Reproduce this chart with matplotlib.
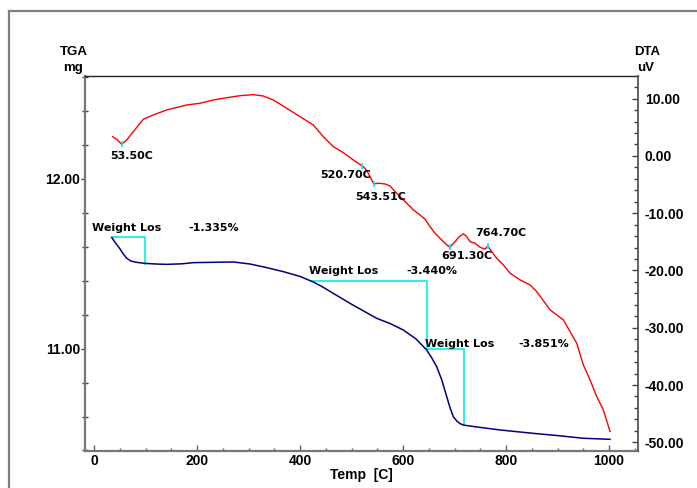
import matplotlib
matplotlib.use("Agg")
import matplotlib.pyplot as plt
from matplotlib.lines import Line2D
from matplotlib.ticker import MultipleLocator, FormatStrFormatter

# TGA trace (mass in mg vs temperature in C)
tga_temp = [34.4, 40.0, 50.0, 56.0, 63.5, 72.0, 82.9, 97.7, 120.0, 141.2, 170.0,
            192.8, 230.0, 270.5, 302.9, 335.0, 367.6, 400.0, 425.8, 445.0, 464.7,
            497.1, 520.0, 548.9, 575.0, 600.6, 625.0, 646.0, 655.0, 665.4, 675.0,
            684.9, 691.0, 697.7, 705.0, 711.0, 717.1, 740.0, 788.3, 853.0, 900.0,
            950.1, 1002.0]
tga_mass = [11.656, 11.630, 11.590, 11.562, 11.533, 11.516, 11.509, 11.503, 11.499,
            11.497, 11.500, 11.507, 11.509, 11.511, 11.499, 11.478, 11.454, 11.426,
            11.393, 11.362, 11.326, 11.267, 11.228, 11.179, 11.148, 11.110, 11.058,
            10.992, 10.950, 10.894, 10.818, 10.717, 10.655, 10.599, 10.572, 10.558,
            10.550, 10.540, 10.521, 10.501, 10.488, 10.472, 10.466]

# DTA trace (uV vs temperature in C)
dta_temp = [36.3, 44.1, 53.5, 63.5, 76.3, 95.7, 115.1, 141.2, 180.0, 205.8, 231.7,
            257.7, 283.5, 309.3, 328.7, 348.2, 374.2, 400.0, 425.8, 445.2, 464.7,
            484.1, 503.5, 520.7, 526.2, 532.6, 539.2, 543.5, 552.0, 565.0, 574.8,
            584.5, 594.2, 607.2, 620.0, 633.0, 642.7, 652.4, 662.1, 675.1, 684.9,
            691.3, 701.0, 709.3, 717.1, 723.7, 730.1, 739.8, 749.5, 759.2, 764.7,
            772.2, 781.9, 794.8, 807.8, 827.2, 846.6, 859.6, 885.4, 911.3, 937.3,
            950.1, 963.1, 976.1, 988.9, 1002.0]
dta_signal = [3.37, 2.91, 2.04, 2.79, 4.24, 6.40, 7.16, 8.03, 8.90, 9.20, 9.77,
              10.17, 10.52, 10.70, 10.47, 9.77, 8.32, 6.86, 5.41, 3.37, 1.62,
              0.58, -0.70, -1.75, -2.15, -3.02, -4.19, -4.89, -4.76, -4.89, -5.24,
              -6.23, -7.10, -8.25, -9.42, -10.30, -11.05, -12.34, -13.49, -14.66, -15.53,
              -15.93, -14.96, -14.08, -13.61, -14.08, -14.96, -15.24, -15.93, -16.28, -15.71,
              -16.70, -17.85, -19.02, -20.47, -21.64, -22.51, -23.68, -26.86, -28.62, -32.69,
              -36.47, -39.09, -42.00, -44.33, -48.10]

# DTA peaks
peak_temps = [53.50, 520.70, 543.51, 691.30, 764.70]
peak_signal = [2.04, -1.75, -4.89, -15.93, -15.71]

# weight loss steps: (start temp, end temp, loss in % of initial mass)
step_start = [36.9, 423.0, 646.0]
step_end = [99.0, 646.0, 718.0]
step_loss = [-1.335, -3.440, -3.851]
step_top = [11.656, 11.399, None]  # third step starts where the second ends

RED = "#ff0000"
NAVY = "#000080"
CYAN = "#00eef0"
AXFONT = "Liberation Sans"
LBLFONT = "DejaVu Sans"

fig = plt.figure(figsize=(6.97, 4.88), dpi=100)
ax = fig.add_axes([85 / 697, 37 / 488, 553 / 697, 375 / 488])
ax2 = ax.twinx()

# outer frame
fig.add_artist(Line2D([9 / 697, 1.0], [1 - 11 / 488, 1 - 11 / 488],
                      transform=fig.transFigure, color="#808080", lw=1.6))
fig.add_artist(Line2D([9 / 697, 9 / 697], [0.0, 1 - 11 / 488],
                      transform=fig.transFigure, color="#808080", lw=1.6))

ax.plot(tga_temp, tga_mass, color=NAVY, lw=1.1, zorder=3)
ax2.plot(dta_temp, dta_signal, color=RED, lw=1.0, zorder=3)
ax2.plot(peak_temps, peak_signal, ls="none", marker="|", ms=5, mew=1.2, color=CYAN, zorder=4)

# weight loss boxes
m0 = step_top[0]
top = m0
for i in range(len(step_loss)):
    if step_top[i] is not None:
        top = step_top[i]
    bot = top + step_loss[i] / 100.0 * m0
    ax.plot([step_start[i], step_end[i], step_end[i]], [top, top, bot],
            color=CYAN, lw=1.2, zorder=2)
    top = bot

lbl_kw = dict(family=LBLFONT, weight="bold", fontsize=8, va="center", ha="left")

# weight loss labels
wl_text_pos = [(-3.9, 11.714), (418.0, 11.458), (642.7, 11.028)]
wl_pct_x = [182.5, 605.8, 824.0]
for i in range(len(step_loss)):
    x, y = wl_text_pos[i]
    ax.text(x, y, "Weight Los", zorder=5, **lbl_kw)
    ax.text(wl_pct_x[i], y, "%.3f%%" % step_loss[i], zorder=5, **lbl_kw)

# peak labels
peak_offsets = [(-7.9, -8.4), (-30.0, -6.7), (-13.2, -9.6), (-6.5, -6.3), (-9.1, 9.6)]
for i in range(len(peak_temps)):
    ax2.annotate("%.2fC" % peak_temps[i], xy=(peak_temps[i], peak_signal[i]),
                 xytext=peak_offsets[i], textcoords="offset points", zorder=5, **lbl_kw)

# axes limits and ticks
ax.set_xlim(-17.5, 1056.3)
ax.set_ylim(10.397, 12.607)
ax2.set_ylim(-51.52, 13.96)

ax.xaxis.set_major_locator(MultipleLocator(200))
ax.xaxis.set_minor_locator(MultipleLocator(50))
ax.yaxis.set_major_locator(MultipleLocator(1.0))
ax.yaxis.set_minor_locator(MultipleLocator(0.2))
ax.yaxis.set_major_formatter(FormatStrFormatter("%.2f"))
ax2.yaxis.set_major_locator(MultipleLocator(10))
ax2.yaxis.set_minor_locator(MultipleLocator(2))
ax2.yaxis.set_major_formatter(FormatStrFormatter("%.2f"))

ax.tick_params(axis="x", which="major", direction="in", length=4, width=1, color="#606060", pad=2)
ax.tick_params(axis="x", which="minor", direction="in", length=2.5, width=1, color="#606060")
ax.tick_params(axis="y", which="major", direction="out", length=3, width=1, color="#404040", pad=0.5)
ax.tick_params(axis="y", which="minor", direction="inout", length=4, width=1, color="#404040")
ax2.tick_params(axis="y", which="major", direction="in", length=4.5, width=1, color="#404040", pad=5)
ax2.tick_params(axis="y", which="minor", direction="in", length=3, width=1, color="#404040")
for lab in ax.get_xticklabels() + ax.get_yticklabels() + ax2.get_yticklabels():
    lab.set_fontfamily(AXFONT)
    lab.set_fontweight("bold")
    lab.set_fontsize(10)

for s in ["left", "bottom"]:
    ax.spines[s].set_color("#777777")
    ax.spines[s].set_linewidth(1.6)
ax.spines["top"].set_color("#222222")
ax.spines["top"].set_linewidth(1.0)
ax.spines["right"].set_visible(False)
for s in ["left", "bottom", "top"]:
    ax2.spines[s].set_visible(False)
ax2.spines["right"].set_color("#555555")
ax2.spines["right"].set_linewidth(1.3)

ax.set_xlabel("Temp  [C]", fontfamily=AXFONT, fontweight="bold", fontsize=10)
ax.xaxis.set_label_coords(0.499, -0.045)
ax.xaxis.label.set_va("top")

title_kw = dict(family=AXFONT, weight="bold", fontsize=9.5, ha="center", va="center")
ax.text(-0.02, 1.064, "TGA", transform=ax.transAxes, **title_kw)
ax.text(-0.022, 1.022, "mg", transform=ax.transAxes, **title_kw)
ax2.text(1.016, 1.064, "DTA", transform=ax2.transAxes, **title_kw)
ax2.text(1.014, 1.022, "uV", transform=ax2.transAxes, **title_kw)

fig.savefig("out.png", dpi=100)
